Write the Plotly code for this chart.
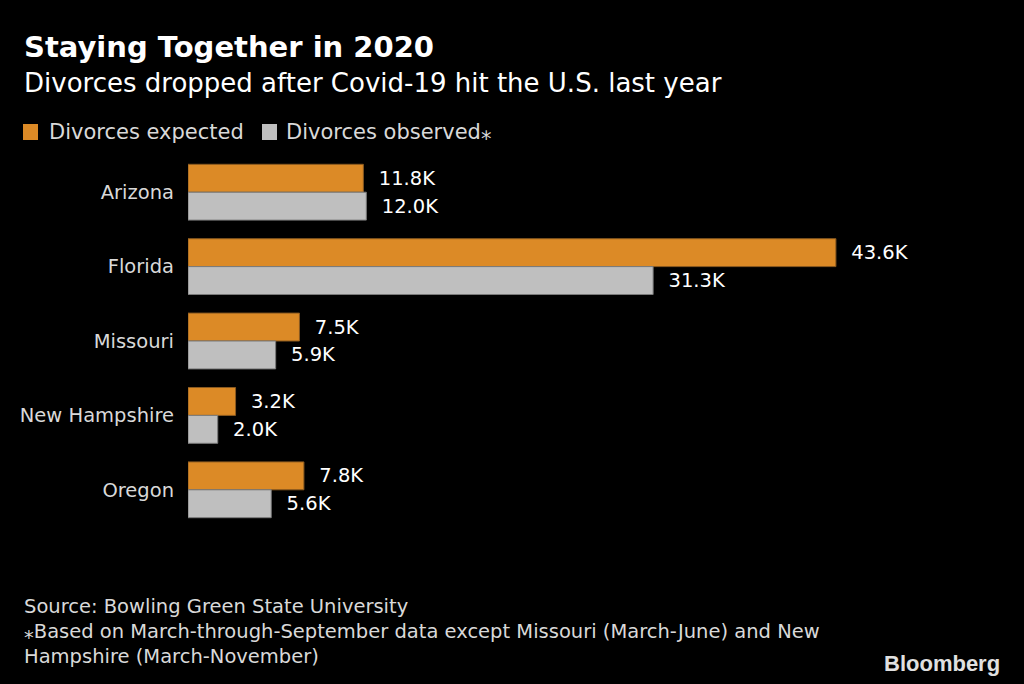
import plotly.graph_objects as go

states = ["Arizona", "Florida", "Missouri", "New Hampshire", "Oregon"]
expected = [11.8, 43.6, 7.5, 3.2, 7.8]
observed = [12.0, 31.3, 5.9, 2.0, 5.6]
series_names = ["Divorces expected", "Divorces observed\u204e"]

ORANGE = "#DC8A26"
GRAY = "#BFBFBF"
FONT = "DejaVu Sans"

W, H = 1024, 684
ML, MR, MT, MB = 188, 93, 155, 157
PW, PH = W - ML - MR, H - MT - MB


def px(x):
    return (x - ML) / PW


def py(y):
    return (H - MB - y) / PH


fig = go.Figure()
fig.add_trace(go.Bar(
    y=states, x=expected, orientation="h", name=series_names[0],
    marker=dict(color=ORANGE, line=dict(color="#8a5a20", width=1)),
    text=[f"{v:.1f}K" for v in expected], texttemplate="  %{text}",
    textposition="outside", textfont=dict(color="white", size=19.5, family=FONT),
    cliponaxis=False,
))
fig.add_trace(go.Bar(
    y=states, x=observed, orientation="h", name=series_names[1],
    marker=dict(color=GRAY, line=dict(color="#7a7a7a", width=1)),
    text=[f"{v:.1f}K" for v in observed], texttemplate="  %{text}",
    textposition="outside", textfont=dict(color="white", size=19.5, family=FONT),
    cliponaxis=False,
))

fig.update_layout(
    width=W, height=H,
    paper_bgcolor="black", plot_bgcolor="black",
    barmode="group", bargap=0.25, bargroupgap=0,
    margin=dict(l=ML, r=MR, t=MT, b=MB, autoexpand=False),
    font=dict(family=FONT, color="#d9d9d9", size=19),
    showlegend=False,
    xaxis=dict(range=[0, 50], visible=False, showgrid=False, zeroline=False),
    yaxis=dict(autorange="reversed", showgrid=False, zeroline=False, showline=False,
               ticks="", tickfont=dict(size=19.5, color="#d9d9d9", family=FONT), ticklabelstandoff=13),
)

annotations = [
    ("<b>Staying Together in 2020</b>", 22, 47, 29, "white"),
    ("Divorces dropped after Covid-19 hit the U.S. last year", 22, 83, 26, "white"),
    (series_names[0], 47, 132, 21, "#d9d9d9"),
    (series_names[1], 284, 132, 21, "#d9d9d9"),
    ("Source: Bowling Green State University", 22, 606, 19.5, "#d9d9d9"),
    ("\u204eBased on March-through-September data except Missouri (March-June) and New", 22, 631, 19.5, "#d9d9d9"),
    ("Hampshire (March-November)", 22, 656, 19.5, "#d9d9d9"),
]
for text, x, y, size, color in annotations:
    fig.add_annotation(text=text, x=px(x), y=py(y), xref="paper", yref="paper",
                       xanchor="left", yanchor="middle", showarrow=False,
                       font=dict(family=FONT, size=size, color=color))

# legend swatches
for x0, color in [(23, ORANGE), (262, GRAY)]:
    fig.add_shape(type="rect", xref="paper", yref="paper",
                  x0=px(x0), x1=px(x0 + 15), y0=py(140), y1=py(124),
                  fillcolor=color, line=dict(width=0))

fig.add_annotation(text="<b>Bloomberg</b>", x=px(1002), y=py(663), xref="paper", yref="paper",
                   xanchor="right", yanchor="middle", showarrow=False,
                   font=dict(family="Liberation Sans Narrow, Liberation Sans", size=22, color="#e0e0e0"))

fig.write_html("out.html")
